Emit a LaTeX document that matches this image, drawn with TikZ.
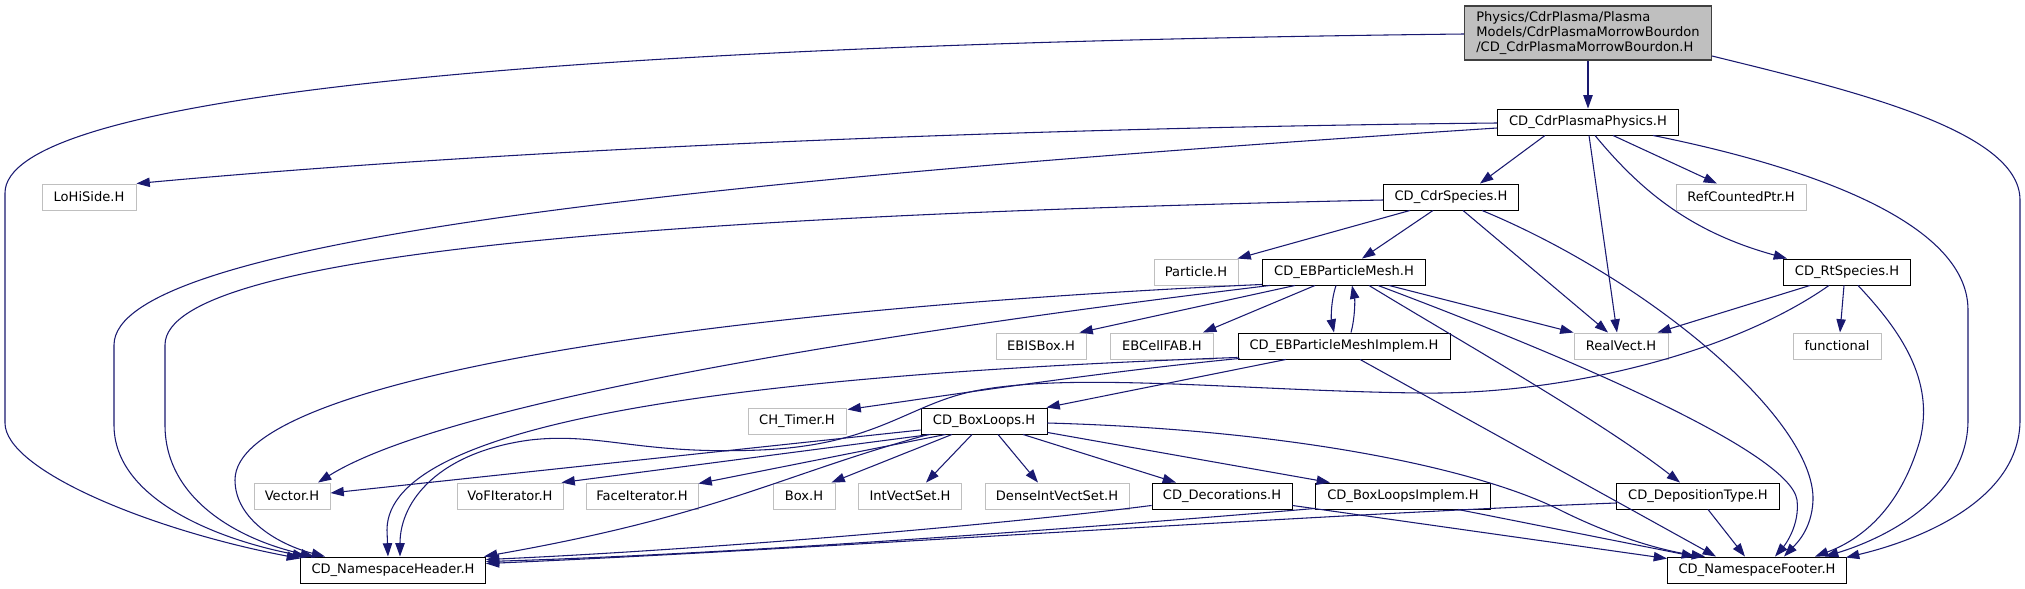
\documentclass[tikz,border=0pt]{standalone}
\usepackage{fontspec}
\setmainfont{DejaVu Sans}
\usetikzlibrary{calc,arrows.meta}
\definecolor{edgec}{HTML}{191970}
\definecolor{gbord}{HTML}{BFBFBF}
\definecolor{rootfill}{HTML}{BFBFBF}
\definecolor{rootbord}{HTML}{404040}
\begin{document}
\begin{tikzpicture}[x=0.75pt,y=-0.75pt,
  fnt/.style={font=\fontsize{9.8pt}{11.25pt}\selectfont},
  docbox/.style={draw=black, line width=0.7pt, fill=white, minimum height=19.5pt, inner sep=0pt, fnt},
  extbox/.style={draw=gbord, line width=0.7pt, fill=white, minimum height=19.5pt, inner sep=0pt, fnt},
  rootbox/.style={draw=rootbord, line width=0.8pt, fill=rootfill, minimum height=40.5pt, inner sep=0pt, align=left, fnt},
  arr/.style={draw=edgec, line width=0.8pt, -{Triangle[length=10pt,width=7pt]}}
]
\path[use as bounding box] (0,0) rectangle (2025,589);

% nodes
\node[rootbox, minimum width=185.25pt] (root) at (1588,33) {Physics/CdrPlasma/Plasma\\Models/CdrPlasmaMorrowBourdon\\/CD\_CdrPlasmaMorrowBourdon.H};
\node[docbox, minimum width=135.75pt] (phys) at (1588,122) {CD\_CdrPlasmaPhysics.H};
\node[extbox, minimum width=70.5pt] (lohi) at (89,197) {LoHiSide.H};
\node[docbox, minimum width=101.25pt] (cdrsp) at (1451,197) {CD\_CdrSpecies.H};
\node[extbox, minimum width=97.5pt] (refc) at (1741,197) {RefCountedPtr.H};
\node[extbox, minimum width=63pt] (particle) at (1196,272) {Particle.H};
\node[docbox, minimum width=122.25pt] (ebpm) at (1344,272) {CD\_EBParticleMesh.H};
\node[docbox, minimum width=95.25pt] (rtsp) at (1847,272) {CD\_RtSpecies.H};
\node[extbox, minimum width=67.5pt] (ebis) at (1041,346) {EBISBox.H};
\node[extbox, minimum width=77.25pt] (ebcell) at (1162,346) {EBCellFAB.H};
\node[docbox, minimum width=159pt] (ebimpl) at (1344,346) {CD\_EBParticleMeshImplem.H};
\node[extbox, minimum width=70.5pt] (realvect) at (1621,346) {RealVect.H};
\node[extbox, minimum width=66pt] (functional) at (1837,346) {functional};
\node[extbox, minimum width=73.5pt] (chtimer) at (797,421) {CH\_Timer.H};
\node[docbox, minimum width=94.5pt] (boxloops) at (984,421) {CD\_BoxLoops.H};
\node[extbox, minimum width=57pt] (vector) at (292,496) {Vector.H};
\node[extbox, minimum width=79.5pt] (vof) at (510,496) {VoFIterator.H};
\node[extbox, minimum width=84pt] (face) at (642,496) {FaceIterator.H};
\node[extbox, minimum width=46.5pt] (box) at (804,496) {Box.H};
\node[extbox, minimum width=77.25pt] (ivs) at (910,496) {IntVectSet.H};
\node[extbox, minimum width=108pt] (divs) at (1057,496) {DenseIntVectSet.H};
\node[docbox, minimum width=105pt] (deco) at (1222,496) {CD\_Decorations.H};
\node[docbox, minimum width=131.25pt] (bli) at (1403,496) {CD\_BoxLoopsImplem.H};
\node[docbox, minimum width=122.25pt] (deptype) at (1698,496) {CD\_DepositionType.H};
\node[docbox, minimum width=138.75pt] (header) at (393,570) {CD\_NamespaceHeader.H};
\node[docbox, minimum width=134.25pt] (footer) at (1757,570) {CD\_NamespaceFooter.H};

% root edges
\draw[arr] (root.south) -- (phys.north);
\draw[arr] ($(root.west)+(0,1)$) .. controls (500,45) and (5,100) .. (5,193) -- (5,423) .. controls (5,470) and (150,530) .. ($(header.north west)+(0,2)$);
\draw[arr] ($(root.east)+(0,23)$) .. controls (1850,90) and (2020,130) .. (2020,200) -- (2020,420) .. controls (2020,500) and (1920,540) .. ($(footer.north east)+(-1,1)$);

% phys edges
\draw[arr] ($(phys.west)+(0,1)$) .. controls (1000,128) and (500,150) .. (lohi.north east);
\draw[arr] ($(phys.west)+(0,6)$) .. controls (700,180) and (114,240) .. (114,345) -- (114,425) .. controls (114,500) and (220,540) .. ($(header.north west)+(6,0)$);
\draw[arr] ($(phys.south)+(-43,0)$) -- ($(cdrsp.north)+(29,0)$);
\draw[arr] ($(phys.south)+(25,0)$) -- ($(refc.north)+(-24,0)$);
\draw[arr] ($(phys.south)+(7,0)$) .. controls (1640,190) and (1690,232) .. ($(rtsp.north)+(-60,0)$);
\draw[arr] ($(phys.south)+(1,0)$) -- ($(realvect.north)+(-4,0)$);
\draw[arr] ($(phys.south)+(65,0)$) .. controls (1800,165) and (1968,220) .. (1968,310) -- (1968,420) .. controls (1968,500) and (1880,540) .. ($(footer.north)+(68,0)$);

% cdrsp edges
\draw[arr] ($(cdrsp.west)+(0,3)$) .. controls (700,215) and (165,250) .. (165,345) -- (165,425) .. controls (165,500) and (240,540) .. ($(header.north west)+(14,0)$);
\draw[arr] ($(cdrsp.south)+(-41,0)$) -- ($(particle.north east)+(-1,0)$);
\draw[arr] ($(cdrsp.south)+(-18,0)$) -- ($(ebpm.north)+(18,0)$);
\draw[arr] ($(cdrsp.south)+(12,0)$) -- ($(realvect.north)+(-13,0)$);
\draw[arr] ($(cdrsp.south)+(31,0)$) .. controls (1650,280) and (1815,420) .. (1813,500) .. controls (1812,530) and (1795,545) .. ($(footer.north)+(27,0)$);

% ebpm edges
\draw[arr] ($(ebpm.south west)+(0,-1)$) .. controls (700,310) and (235,380) .. (235,480) .. controls (235,520) and (280,545) .. ($(header.north west)+(25,0)$);
\draw[arr] ($(ebpm.south west)+(8,0)$) .. controls (900,330) and (450,400) .. ($(vector.north)+(26,0)$);
\draw[arr] ($(ebpm.south)+(-49,0)$) -- ($(ebis.north east)+(-7,0)$);
\draw[arr] ($(ebpm.south)+(-29,0)$) -- ($(ebcell.north)+(41,0)$);
\draw[arr] ($(ebpm.south)+(-8,0)$) .. controls (1331,300) and (1331,318) .. ($(ebimpl.north)+(-10,0)$);
\draw[arr] ($(ebpm.south)+(45,0)$) -- (realvect.north west);
\draw[arr] ($(ebpm.south)+(25,0)$) .. controls (1450,335) and (1600,420) .. ($(deptype.north)+(-18,0)$);
\draw[arr] ($(ebpm.south)+(34,0)$) .. controls (1550,350) and (1790,450) .. (1797,500) .. controls (1800,525) and (1785,545) .. ($(footer.north)+(18,0)$);

% ebimpl edges
\draw[arr] ($(ebimpl.north)+(7,0)$) .. controls (1355,318) and (1355,300) .. ($(ebpm.south)+(8,0)$);
\draw[arr] ($(ebimpl.south west)+(2,-1)$) .. controls (1100,372) and (950,395) .. ($(chtimer.north east)+(1,2)$);
\draw[arr] ($(ebimpl.south)+(-58,0)$) -- ($(boxloops.north east)+(-1,0)$);
\draw[arr] ($(ebimpl.south west)+(0,-2)$) .. controls (750,375) and (387,420) .. (387,530) -- ($(header.north)+(-5,0)$);
\draw[arr] ($(ebimpl.south)+(16,0)$) -- ($(footer.north)+(-41,0)$);

% rtsp edges
\draw[arr] ($(rtsp.south)+(-37,0)$) -- ($(realvect.north east)+(-11,0)$);
\draw[arr] ($(rtsp.south)+(-3,0)$) -- ($(functional.north)+(3,0)$);
\draw[arr] ($(rtsp.south)+(11,0)$) .. controls (1900,330) and (1935,380) .. (1920,440) .. controls (1900,510) and (1860,540) .. ($(footer.north)+(58,0)$);
\draw[arr] ($(rtsp.south)+(-18,0)$) .. controls (1730,355) and (1560,395) .. (1420,393) .. controls (1250,391) and (1080,372) .. (980,390) .. controls (910,402) and (880,445) .. (760,450) .. controls (640,455) and (600,432) .. (530,440) .. controls (440,452) and (400,500) .. ($(header.north)+(7,0)$);

% boxloops edges
\draw[arr] ($(boxloops.west)+(0,9)$) -- ($(vector.east)+(0,-3)$);
\draw[arr] ($(boxloops.south west)+(10,0)$) -- ($(vof.north east)+(-2,0)$);
\draw[arr] ($(boxloops.south west)+(25,0)$) -- ($(face.north east)+(0,1)$);
\draw[arr] ($(boxloops.south)+(-32,0)$) -- ($(box.north east)+(-4,0)$);
\draw[arr] ($(boxloops.south)+(-12,0)$) -- ($(ivs.north)+(16,0)$);
\draw[arr] ($(boxloops.south)+(14,0)$) -- ($(divs.north)+(-19,0)$);
\draw[arr] ($(boxloops.south)+(39,0)$) -- ($(deco.north)+(-46,0)$);
\draw[arr] ($(boxloops.south east)+(0,-2)$) -- ($(bli.north)+(-73,0)$);
\draw[arr] ($(boxloops.east)+(0,2)$) .. controls (1300,430) and (1480,470) .. (1560,510) .. controls (1620,540) and (1670,552) .. ($(footer.north)+(-52,0)$);
\draw[arr] ($(boxloops.south west)+(8,0)$) .. controls (780,475) and (720,515) .. ($(header.north east)+(-2,0)$);

% lower row edges
\draw[arr] ($(deco.south west)+(0,-4)$) .. controls (1000,525) and (700,550) .. ($(header.north east)+(0,3)$);
\draw[arr] ($(deco.south east)+(0,-4)$) -- ($(footer.north west)+(0,2)$);
\draw[arr] ($(bli.south west)+(0,-1)$) .. controls (1000,535) and (700,555) .. ($(header.north east)+(0,5)$);
\draw[arr] ($(bli.south)+(55,0)$) -- ($(footer.north)+(-62,0)$);
\draw[arr] ($(deptype.west)+(0,7)$) .. controls (1300,515) and (800,550) .. ($(header.north east)+(0,7)$);
\draw[arr] ($(deptype.south)+(10,0)$) -- ($(footer.north)+(-12,0)$);
\end{tikzpicture}
\end{document}
